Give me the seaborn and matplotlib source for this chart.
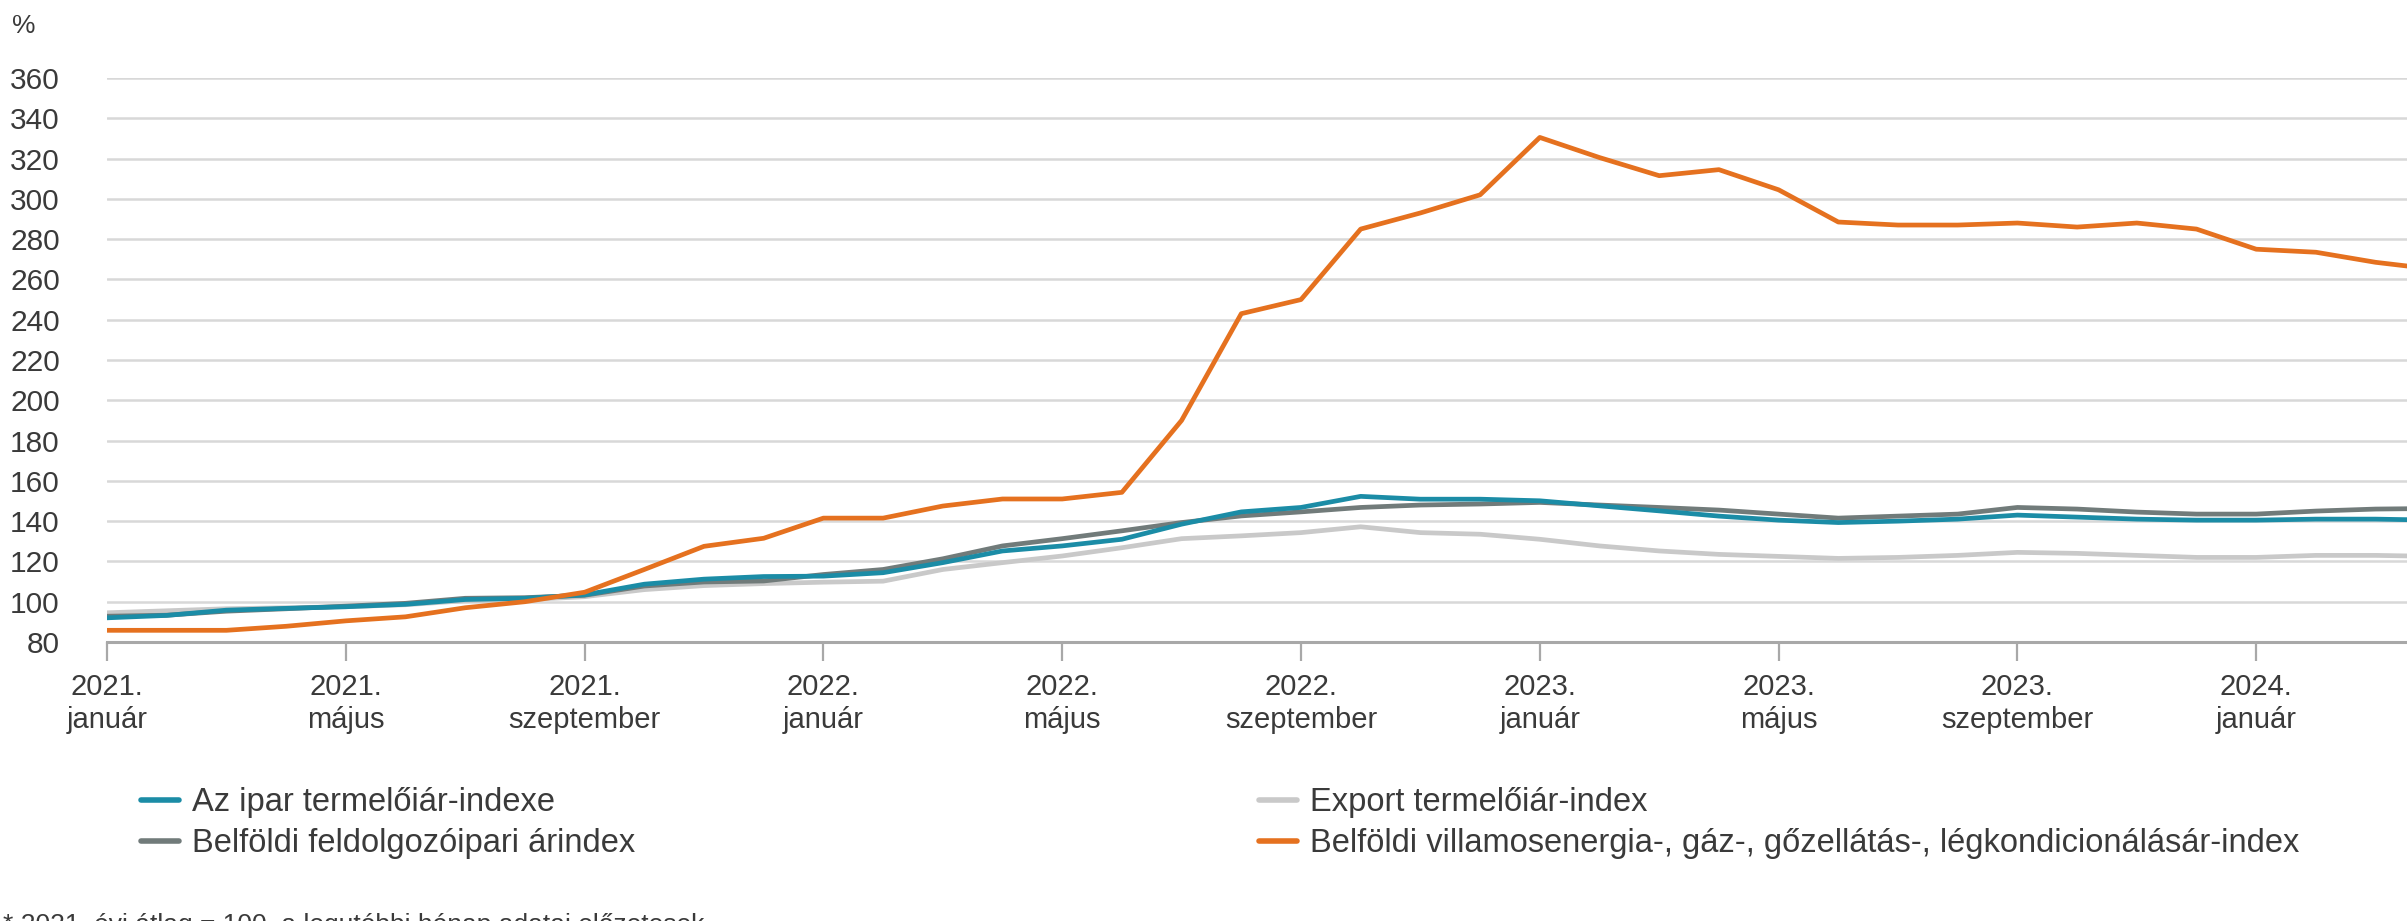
import matplotlib
matplotlib.use('Agg')
import matplotlib.pyplot as plt
import seaborn as sns
import pandas as pd
import numpy as np

# Data: monthly index values, 2021. január .. 2024. április
months = list(range(40))

ipar = [92.0, 93.2, 95.8, 96.7, 97.5, 98.7, 101.1, 101.7, 103.4, 108.7, 111.2, 112.5,
        112.7, 114.4, 119.4, 125.2, 127.7, 131.0, 138.5, 144.6, 146.8, 152.3, 150.9, 150.9,
        150.1, 147.6, 145.1, 142.5, 140.5, 139.3, 140.0, 141.0, 143.0, 142.0, 141.0, 140.5,
        140.5, 141.0, 141.0, 140.5]
feldolgozo = [92.8, 93.3, 95.3, 96.5, 97.8, 99.2, 101.7, 102.0, 103.2, 107.8, 109.8, 110.3,
              113.5, 116.0, 121.3, 127.7, 131.3, 135.2, 139.3, 142.6, 144.6, 146.8, 148.0, 148.5,
              149.3, 148.0, 146.8, 145.5, 143.5, 141.5, 142.5, 143.5, 146.8, 146.0, 144.5, 143.5,
              143.5, 145.0, 146.0, 146.3]
export = [94.5, 95.5, 96.5, 97.0, 97.5, 98.5, 100.5, 101.0, 102.5, 106.0, 108.0, 109.0,
          109.7, 110.2, 116.0, 119.4, 122.7, 126.8, 131.3, 132.7, 134.3, 137.2, 134.3, 133.5,
          131.0, 127.7, 125.2, 123.5, 122.5, 121.5, 122.0, 123.0, 124.5, 124.0, 123.0, 122.0,
          122.0, 123.0, 123.0, 122.5]
energia = [85.8, 85.8, 85.8, 87.8, 90.5, 92.5, 97.0, 100.0, 104.7, 116.0, 127.5, 131.5,
           141.5, 141.5, 147.5, 151.0, 151.0, 154.3, 190.0, 243.0, 250.0, 285.0, 293.0, 302.0,
           330.5, 320.5, 311.5, 314.5, 304.5, 288.5, 287.0, 287.0, 288.0, 286.0, 288.0, 285.0,
           275.0, 273.5, 268.5, 265.0]

series_names = ['Az ipar termelőiár-indexe',
                'Belföldi feldolgozóipari árindex',
                'Export termelőiár-index',
                'Belföldi villamosenergia-, gáz-, gőzellátás-, légkondicionálásár-index']

tick_months = [0, 4, 8, 12, 16, 20, 24, 28, 32, 36]
tick_labels = ['2021.\njanuár', '2021.\nmájus', '2021.\nszeptember',
               '2022.\njanuár', '2022.\nmájus', '2022.\nszeptember',
               '2023.\njanuár', '2023.\nmájus', '2023.\nszeptember',
               '2024.\njanuár']
y_ticks = list(range(80, 361, 20))

COLOR_TEAL = '#1b8ca6'
COLOR_DARKGRAY = '#717b7a'
COLOR_LIGHTGRAY = '#c9c9c9'
COLOR_ORANGE = '#e5711f'
COLOR_TEXT = '#3a3a3a'
COLOR_GRID = '#d8d8d8'

sns.set_theme(style='white')
plt.rcParams['font.family'] = ['Liberation Sans Narrow', 'Liberation Sans', 'DejaVu Sans']
plt.rcParams['font.size'] = 21

df = pd.DataFrame({'month': months * 4,
                   'value': ipar + feldolgozo + export + energia,
                   'series': np.repeat(series_names, len(months))})

W, H = 2407, 921
fig = plt.figure(figsize=(W / 100, H / 100), dpi=100)
x0, x_axis, y_top = 107, 642, 78
ax = fig.add_axes([x0 / W, 1 - x_axis / H, (W - x0) / W, (x_axis - y_top) / H])

palette = {series_names[0]: COLOR_TEAL, series_names[1]: COLOR_DARKGRAY,
           series_names[2]: COLOR_LIGHTGRAY, series_names[3]: COLOR_ORANGE}
draw_order = [series_names[2], series_names[1], series_names[0], series_names[3]]
for name in draw_order:
    sns.lineplot(data=df[df['series'] == name], x='month', y='value', color=palette[name],
                 linewidth=3.4, ax=ax, label=name, legend=False)

px_per_month = 59.7
ax.set_xlim(0, (W - x0) / px_per_month)
ax.set_ylim(80, 360)
ax.set_yticks(y_ticks)
ax.set_yticklabels([str(v) for v in y_ticks], color=COLOR_TEXT, fontsize=21.5)
ax.set_xticks(tick_months)
ax.set_xticklabels(tick_labels, color=COLOR_TEXT, fontsize=21, linespacing=1.25)
ax.set_xlabel('')
ax.set_ylabel('')
ax.grid(True, axis='y', color=COLOR_GRID, linewidth=1.8)
ax.set_axisbelow(True)
for s in ['top', 'right', 'left']:
    ax.spines[s].set_visible(False)
ax.spines['bottom'].set_color('#a8a8a8')
ax.spines['bottom'].set_linewidth(2.2)
ax.tick_params(axis='y', length=0, pad=34)
ax.tick_params(axis='x', length=14, width=1.6, color='#a8a8a8', pad=8, direction='out', bottom=True)

fig.text(12 / W, 1 - 14 / H, '%', color=COLOR_TEXT, fontsize=19, va='top', ha='left')

lines = {l.get_label(): l for l in ax.get_lines()}
leg_kw = dict(frameon=False, loc='upper left', borderpad=0, borderaxespad=0,
              handlelength=1.15, handletextpad=0.42, labelspacing=0.32, fontsize=23.5,
              labelcolor=COLOR_TEXT)
leg1 = fig.legend([lines[series_names[0]], lines[series_names[1]]], series_names[:2],
                  bbox_to_anchor=(141 / W, 1 - 787 / H), **leg_kw)
leg2 = fig.legend([lines[series_names[2]], lines[series_names[3]]], series_names[2:],
                  bbox_to_anchor=(1259 / W, 1 - 787 / H), **leg_kw)
for leg in (leg1, leg2):
    for h in leg.legend_handles:
        h.set_linewidth(4)

fig.text(3 / W, 1 - 913 / H, '* 2021. évi átlag = 100, a legutóbbi hónap adatai előzetesek.',
         color=COLOR_TEXT, fontsize=19, va='top', ha='left')

fig.savefig('out.png', dpi=100)
